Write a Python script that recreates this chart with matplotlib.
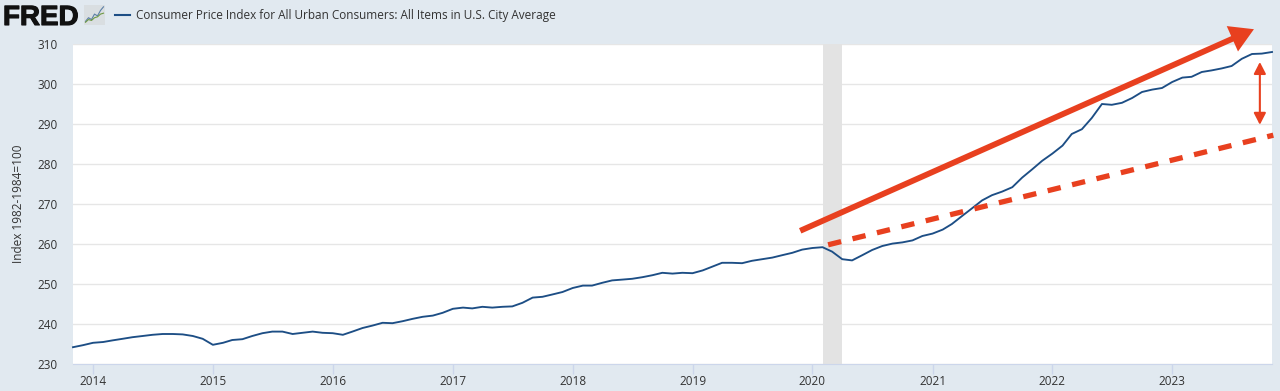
import matplotlib
matplotlib.use("Agg")
import matplotlib.pyplot as plt
import matplotlib.patheffects as pe
import pandas as pd

plt.rcParams['font.family'] = ['Open Sans', 'DejaVu Sans']

# CPI monthly values, Nov 2013 to Nov 2023
cpi_2013 = [234.2, 234.7]
cpi_2014 = [235.3, 235.5, 235.9, 236.3, 236.7, 237.0, 237.3, 237.5, 237.5, 237.4, 237.0, 236.3]
cpi_2015 = [234.8, 235.3, 236.0, 236.2, 237.0, 237.7, 238.1, 238.1, 237.5, 237.8, 238.1, 237.8]
cpi_2016 = [237.7, 237.3, 238.1, 239.0, 239.6, 240.3, 240.2, 240.7, 241.3, 241.8, 242.1, 242.8]
cpi_2017 = [243.8, 244.1, 243.9, 244.3, 244.1, 244.3, 244.4, 245.3, 246.6, 246.8, 247.4, 248.0]
cpi_2018 = [249.0, 249.6, 249.6, 250.3, 250.9, 251.1, 251.3, 251.7, 252.2, 252.8, 252.6, 252.8]
cpi_2019 = [252.7, 253.4, 254.3, 255.3, 255.3, 255.2, 255.8, 256.2, 256.6, 257.2, 257.8, 258.6]
cpi_2020 = [259.0, 259.2, 258.1, 256.2, 255.9, 257.2, 258.5, 259.5, 260.1, 260.4, 260.9, 262.0]
cpi_2021 = [262.6, 263.6, 265.0, 267.0, 268.9, 270.9, 272.2, 273.1, 274.2, 276.6, 278.7, 280.8]
cpi_2022 = [282.6, 284.6, 287.5, 288.7, 291.5, 295.0, 294.8, 295.3, 296.5, 298.0, 298.6, 299.0]
cpi_2023 = [300.5, 301.6, 301.8, 303.0, 303.4, 303.9, 304.5, 306.3, 307.5, 307.6, 308.0]

cpi = (cpi_2013 + cpi_2014 + cpi_2015 + cpi_2016 + cpi_2017 + cpi_2018
       + cpi_2019 + cpi_2020 + cpi_2021 + cpi_2022 + cpi_2023)
dates = pd.date_range('2013-11-01', periods=len(cpi), freq='MS')

years = list(range(2014, 2024))
y_ticks = list(range(230, 320, 10))

# hand drawn annotations, (date, index value)
trend_arrow = [('2019-11-25', 263.3), ('2023-09-07', 313.7)]
old_trend = [('2020-02-18', 259.8), ('2023-11-05', 287.2)]
gap_arrow = [('2023-09-25', 305.5), ('2023-09-25', 289.8)]

bg = '#e1e9f0'
line_color = '#1d4e85'
red = '#e8401f'
text_color = '#333333'

fig = plt.figure(figsize=(12.8, 3.91), dpi=100, facecolor=bg)
ax = fig.add_axes([73 / 1280, 1 - 364 / 391, (1272 - 73) / 1280, 320 / 391])

ax.axvspan(pd.Timestamp('2020-02-01'), pd.Timestamp('2020-04-01'), color='#e3e3e3', lw=0, zorder=1)
ax.plot(dates, cpi, color=line_color, lw=1.35, zorder=3, clip_on=False)

ax.set_xlim(pd.Timestamp('2013-11-01'), pd.Timestamp('2023-11-01'))
ax.set_ylim(230, 310)
ax.set_yticks(y_ticks)
ax.set_xticks([pd.Timestamp(f'{y}-01-01') for y in years])
ax.set_xticklabels([str(y) for y in years])
ax.set_ylabel('Index 1982-1984=100', fontsize=8.5, color=text_color)
ax.yaxis.set_label_coords(-47.5 / 1199, 0.5)

ax.grid(axis='y', color='#e6e6e6', lw=1)
ax.set_axisbelow(True)
for name in ['top', 'left', 'right']:
    ax.spines[name].set_visible(False)
ax.spines['bottom'].set_color('#ccd6eb')
ax.tick_params(axis='x', length=7, color='#ccd6eb', width=1, labelsize=8.5, labelcolor=text_color, pad=1)
ax.tick_params(axis='y', length=0, labelsize=8.5, labelcolor=text_color, pad=11)

# red annotations
ax.annotate('', xy=(pd.Timestamp(trend_arrow[1][0]), trend_arrow[1][1]),
            xytext=(pd.Timestamp(trend_arrow[0][0]), trend_arrow[0][1]),
            annotation_clip=False, zorder=5,
            arrowprops=dict(arrowstyle='simple,head_length=1.7,head_width=2.0,tail_width=0.42',
                            mutation_scale=10, color=red, lw=0, shrinkA=0, shrinkB=0))
ax.plot([pd.Timestamp(old_trend[0][0]), pd.Timestamp(old_trend[1][0])],
        [old_trend[0][1], old_trend[1][1]],
        color=red, lw=3.8, dashes=(2.54, 2.22), dash_capstyle='butt', clip_on=False, zorder=5)
ax.annotate('', xy=(pd.Timestamp(gap_arrow[1][0]), gap_arrow[1][1]),
            xytext=(pd.Timestamp(gap_arrow[0][0]), gap_arrow[0][1]),
            annotation_clip=False, zorder=5,
            arrowprops=dict(arrowstyle='<|-|>,head_length=0.7,head_width=0.36',
                            mutation_scale=10, color=red, lw=1.5, shrinkA=0, shrinkB=0))

# header: logo and legend
logo = fig.text(3 / 1280, 1 - 25 / 391, 'FRED', fontsize=20, fontweight='bold', color='#111111',
                family=['Liberation Sans'], ha='left', va='baseline')
logo.set_path_effects([pe.withStroke(linewidth=0.8, foreground='#111111')])

icon = fig.add_axes([84 / 1280, 1 - 25 / 391, 21 / 1280, 20 / 391], facecolor='#d9dee1')
icon.plot([0, 1, 2, 3, 4, 5, 6], [1, 3, 2, 5, 4, 7, 9], color='#5b7fa6', lw=0.8)
icon.plot([0, 1, 2, 3, 4, 5, 6], [0.5, 2, 1.5, 3, 3.5, 5, 5.5], color='#6f9a45', lw=0.8)
icon.set_xlim(-0.5, 6.5)
icon.set_ylim(-1, 10)
icon.set_xticks([])
icon.set_yticks([])
for side in icon.spines.values():
    side.set_visible(False)

fig.add_artist(plt.Line2D([115 / 1280, 130 / 1280], [1 - 14.5 / 391] * 2, color=line_color, lw=1.5))
fig.text(135.5 / 1280, 1 - 15 / 391, 'Consumer Price Index for All Urban Consumers: All Items in U.S. City Average',
         fontsize=8.5, color=text_color, ha='left', va='center')

fig.savefig('out.png', dpi=100, facecolor=bg)
